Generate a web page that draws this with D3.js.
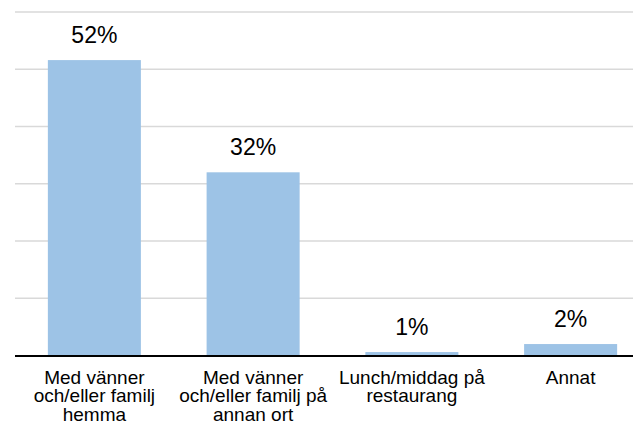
<!DOCTYPE html>
<html lang="sv">
	<head>
		<meta charset="utf-8">
		<title>Stapeldiagram</title>
		<script src="https://d3js.org/d3.v7.min.js"></script>
		<style>
			body { margin: 0; background: #fff; }
			text { font-family: 'Liberation Sans', Arial, sans-serif; fill: #000; }
		</style>
	</head>
	<body>
		<script>
			//Width and height
			var w = 633;
			var h = 421;

			//Data
			var categories = [
				"Med vänner\noch/eller familj\nhemma",
				"Med vänner\noch/eller familj på\nannan ort",
				"Lunch/middag på\nrestaurang",
				"Annat"
			];
			var values = [51.6, 32.0, 0.6, 2.0]; // percent
			var yTicks = [0, 10, 20, 30, 40, 50, 60];

			var svg = d3.select("body")
						.append("svg")
						.attr("width", w)
						.attr("height", h);

			//Scales
			var xScale = d3.scaleBand()
						.domain(categories)
						.range([15, 650])
						.paddingInner(0.414)
						.paddingOuter(0.207);

			var yScale = d3.scaleLinear()
						.domain([0, 60])
						.range([355.5, 12]);

			//Gridlines
			svg.append("g")
			   .selectAll("line")
			   .data(yTicks.slice(1))
			   .enter()
			   .append("line")
			   .attr("x1", 15)
			   .attr("x2", w)
			   .attr("y1", function(d) { return yScale(d); })
			   .attr("y2", function(d) { return yScale(d); })
			   .attr("stroke", "#d9d9d9")
			   .attr("stroke-width", 1.5);

			//Bars
			svg.selectAll("rect")
			   .data(values)
			   .enter()
			   .append("rect")
			   .attr("x", function(d, i) { return xScale(categories[i]); })
			   .attr("y", function(d) { return yScale(d); })
			   .attr("width", xScale.bandwidth())
			   .attr("height", function(d) { return yScale(0) - yScale(d); })
			   .attr("fill", "#9dc3e6");

			//Value labels
			svg.selectAll("text.val")
			   .data(values)
			   .enter()
			   .append("text")
			   .attr("class", "val")
			   .attr("x", function(d, i) { return xScale(categories[i]) + xScale.bandwidth() / 2; })
			   .attr("y", function(d) { return yScale(d) - 17; })
			   .attr("text-anchor", "middle")
			   .attr("font-size", "23px")
			   .text(function(d) { return Math.round(d) + "%"; });

			//X axis baseline
			var xAxis = d3.axisBottom(xScale).tickSize(0).tickFormat("");
			var axisG = svg.append("g")
				.attr("transform", "translate(0," + (yScale(0) + 0.5) + ")")
				.call(xAxis);
			axisG.select(".domain")
				.attr("d", "M15,0H" + w)
				.attr("stroke", "#000")
				.attr("stroke-width", 2);

			//Category labels
			svg.selectAll("text.cat")
			   .data(categories)
			   .enter()
			   .append("text")
			   .attr("class", "cat")
			   .attr("text-anchor", "middle")
			   .attr("font-size", "19px")
			   .attr("y", yScale(0) + 28)
			   .each(function(d) {
			   		var t = d3.select(this);
			   		var cx = xScale(d) + xScale.bandwidth() / 2;
			   		d.split("\n").forEach(function(line, k) {
			   			t.append("tspan")
			   			 .attr("x", cx)
			   			 .attr("dy", k === 0 ? 0 : 18.5)
			   			 .text(line);
			   		});
			   });
		</script>
	</body>
</html>
